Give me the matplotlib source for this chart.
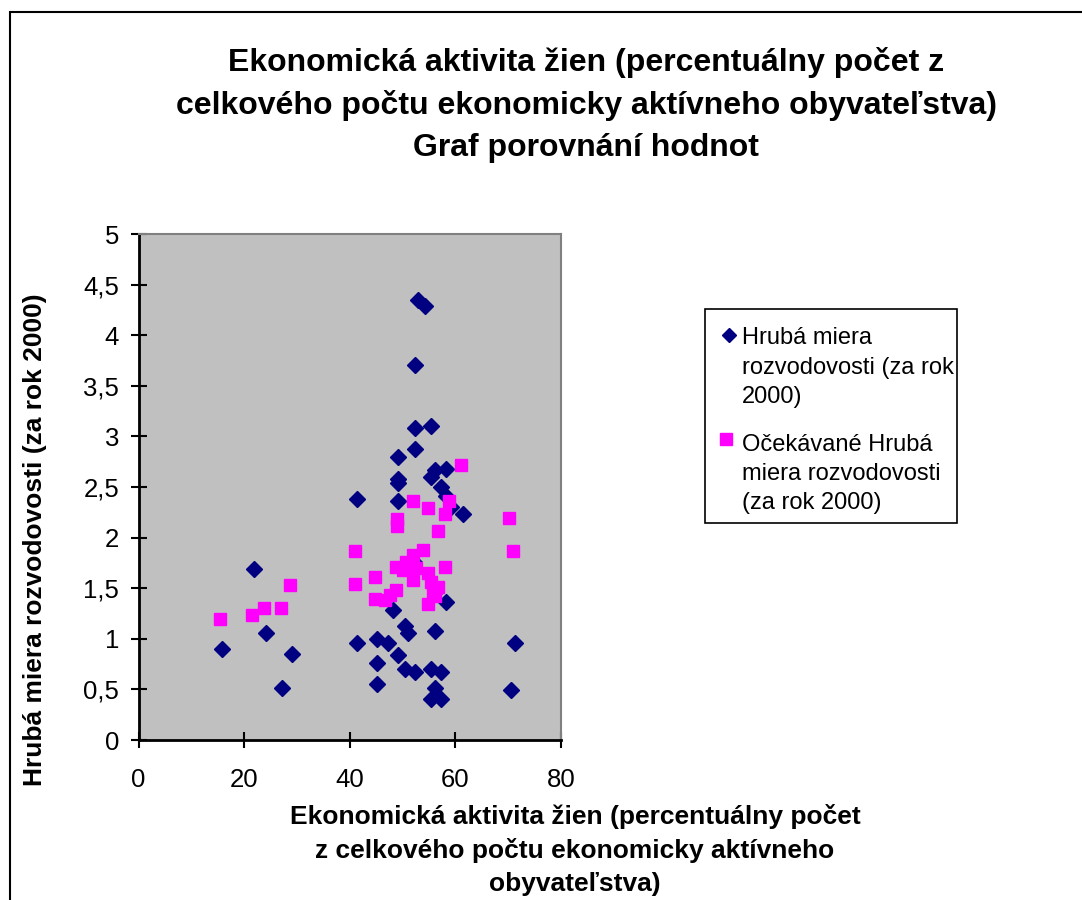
import matplotlib
matplotlib.use("Agg")
import matplotlib.pyplot as plt
from matplotlib.patches import Rectangle
from matplotlib.lines import Line2D

plt.rcParams['font.family'] = ['Liberation Sans', 'DejaVu Sans']

# Hrubá miera rozvodovosti (za rok 2000) - observed
obs_x = [21.9, 15.8, 24.2, 29.1, 27.2,
         52.9, 54.2, 52.3, 52.3, 55.3, 52.3, 49.2, 56.1, 55.3, 58.3,
         49.2, 49.2, 57.2, 58.3, 41.3, 49.2, 59.1, 61.4,
         48.1, 58.3, 50.4, 51.1, 56.1, 41.3, 45.1, 47.3, 49.2, 45.1,
         50.4, 52.3, 55.3, 57.2, 45.1, 56.1, 55.3, 57.2,
         52.1, 71.2, 70.5]
obs_y = [1.69, 0.90, 1.06, 0.85, 0.51,
         4.35, 4.29, 3.71, 3.08, 3.10, 2.88, 2.80, 2.67, 2.60, 2.68,
         2.58, 2.54, 2.50, 2.41, 2.38, 2.36, 2.30, 2.23,
         1.28, 1.36, 1.13, 1.06, 1.08, 0.96, 1.00, 0.96, 0.84, 0.76,
         0.70, 0.67, 0.70, 0.67, 0.55, 0.51, 0.41, 0.41,
         1.76, 0.96, 0.49]

# Očekávané Hrubá miera rozvodovosti (za rok 2000) - expected
exp_x = [15.5, 21.5, 23.8, 26.9, 28.7,
         61.0, 51.9, 58.7, 54.9, 58.0, 48.9, 48.9, 56.8,
         40.9, 53.8, 51.9, 50.7, 48.7, 58.0, 52.6, 50.0, 54.9, 51.9,
         55.3, 56.4, 56.1, 54.9, 48.7, 47.7, 46.6, 40.9, 44.7, 44.7,
         56.8, 55.7, 70.1, 70.9]
exp_y = [1.20, 1.24, 1.30, 1.30, 1.53,
         2.72, 2.36, 2.36, 2.29, 2.23, 2.18, 2.11, 2.07,
         1.87, 1.88, 1.83, 1.76, 1.71, 1.71, 1.70, 1.68, 1.65, 1.58,
         1.56, 1.50, 1.42, 1.34, 1.48, 1.43, 1.38, 1.54, 1.61, 1.39,
         1.51, 1.45, 2.19, 1.87]

title = ("Ekonomická aktivita žien (percentuálny počet z\n"
         "celkového počtu ekonomicky aktívneho obyvateľstva)\n"
         "Graf porovnání hodnot")
xlabel = ("Ekonomická aktivita žien (percentuálny počet\n"
          "z celkového počtu ekonomicky aktívneho\n"
          "obyvateľstva)")
ylabel = "Hrubá miera rozvodovosti (za rok 2000)"
obs_label = "Hrubá miera\nrozvodovosti (za rok\n2000)"
exp_label = "Očekávané Hrubá\nmiera rozvodovosti\n(za rok 2000)"

NAVY = '#000080'
MAGENTA = '#FF00FF'

W, H = 1082, 900
fig = plt.figure(figsize=(W / 100, H / 100), dpi=100)


def fx(px):
    return px / W


def fy(py):
    return 1 - py / H


# outer chart border (cut by image edges on right/bottom)
fig.patches.append(Rectangle((fx(10), -0.1), 1.2, fy(12) + 0.1,
                             transform=fig.transFigure, fill=False,
                             edgecolor='black', linewidth=1.5))

ax = fig.add_axes([fx(138.5), fy(740), (561 - 138.5) / W, (740 - 234) / H])
ax.set_facecolor('#C0C0C0')

ax.plot(obs_x, obs_y, linestyle='none', marker='D', markersize=8.5, color=NAVY)
ax.plot(exp_x, exp_y, linestyle='none', marker='s', markersize=9, color=MAGENTA)

ax.set_xlim(0, 80)
ax.set_ylim(0, 5)
ax.set_xticks([0, 20, 40, 60, 80])
ax.set_yticks([0, 0.5, 1, 1.5, 2, 2.5, 3, 3.5, 4, 4.5, 5])
ax.set_yticklabels(['0', '0,5', '1', '1,5', '2', '2,5', '3', '3,5', '4', '4,5', '5'])
ax.tick_params(direction='inout', length=11, width=1.5, labelsize=18.5, pad=8.5)
ax.tick_params(axis='x', pad=15)
for side in ['top', 'right']:
    ax.spines[side].set_color('#808080')
    ax.spines[side].set_linewidth(1.5)
for side in ['left', 'bottom']:
    ax.spines[side].set_linewidth(2)

fig.text(fx(586), fy(105), title, ha='center', va='center',
         fontsize=23, fontweight='bold', linespacing=1.5)
fig.text(fx(575), fy(850), xlabel, ha='center', va='center',
         fontsize=19, fontweight='bold', linespacing=1.45)
fig.text(fx(35), fy(540), ylabel, ha='center', va='center',
         rotation=90, fontsize=19, fontweight='bold')

# legend drawn by hand so markers sit on the first text line
fig.patches.append(Rectangle((fx(705), fy(523)), (957 - 705) / W, (523 - 309) / H,
                             transform=fig.transFigure, facecolor='white',
                             edgecolor='black', linewidth=1.2))
fig.lines.append(Line2D([fx(729)], [fy(335)], transform=fig.transFigure,
                        linestyle='none', marker='D', markersize=7.5, color=NAVY))
fig.lines.append(Line2D([fx(726)], [fy(438.5)], transform=fig.transFigure,
                        linestyle='none', marker='s', markersize=8, color=MAGENTA))
# baseline alignment here refers to the last line of each entry
fig.text(fx(742), fy(402.7), obs_label, ha='left', va='baseline',
         fontsize=17, linespacing=1.42)
fig.text(fx(742), fy(509.5), exp_label, ha='left', va='baseline',
         fontsize=17, linespacing=1.42)

fig.savefig('out.png', dpi=100)
